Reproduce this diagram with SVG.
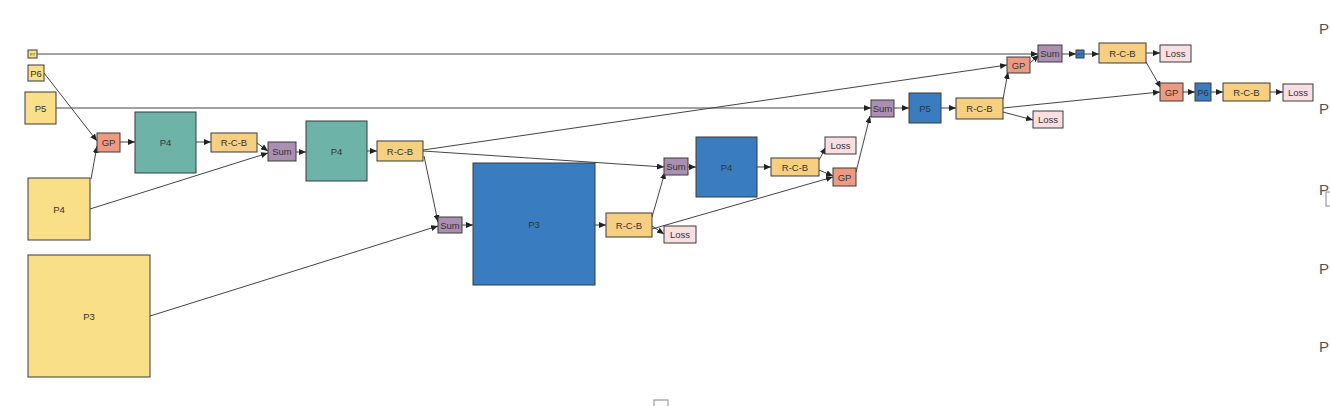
<svg xmlns="http://www.w3.org/2000/svg" width="1330" height="406" viewBox="0 0 1330 406">
<style>
.n{stroke:#3a3a3a;stroke-width:1}
.y{fill:#f8df88}.t{fill:#6db3a7}.b{fill:#3a7cc0}.g{fill:#ee9a83}.s{fill:#ab8fb2}.r{fill:#f7cf80}.l{fill:#f9dfe2}
text{font-family:"Liberation Sans",Arial,sans-serif;font-size:9.5px;fill:#333;text-anchor:middle;dominant-baseline:central}
.e{fill:none;stroke:#444;stroke-width:1;marker-end:url(#a)}
.side{font-size:15px;fill:#555;text-anchor:start}
</style>
<defs>
<marker id="a" markerUnits="userSpaceOnUse" markerWidth="7" markerHeight="6" refX="7" refY="3" orient="auto"><path d="M0,0 L7,3 L0,6 z" fill="#222"/></marker>
</defs>
<rect width="1330" height="406" fill="#fff"/>
<g id="edges">
<path class="e" d="M37,54 L1038,54"/>
<path class="e" d="M44,73 L97,141"/>
<path class="e" d="M91,179 L97,146"/>
<path class="e" d="M120,142 L135,142"/>
<path class="e" d="M196,142 L211,142"/>
<path class="e" d="M257,143 L268,151"/>
<path class="e" d="M90,209 L268,153"/>
<path class="e" d="M296,152 L306,152"/>
<path class="e" d="M367,151 L377,151"/>
<path class="e" d="M423,150 L1007,65"/>
<path class="e" d="M423,151 L664,167"/>
<path class="e" d="M424,156 L438,222"/>
<path class="e" d="M150,316 L438,226"/>
<path class="e" d="M462,225 L473,225"/>
<path class="e" d="M595,225 L606,225"/>
<path class="e" d="M652,217 L665,172"/>
<path class="e" d="M652,226 L664,234"/>
<path class="e" d="M652,229 L833,177"/>
<path class="e" d="M688,167 L696,167"/>
<path class="e" d="M757,167 L771,167"/>
<path class="e" d="M819,160 L826,147"/>
<path class="e" d="M819,170 L833,176"/>
<path class="e" d="M856,172 L870,116"/>
<path class="e" d="M56,108 L871,108"/>
<path class="e" d="M894,108 L909,108"/>
<path class="e" d="M941,108 L956,108"/>
<path class="e" d="M1003,99 L1008,72"/>
<path class="e" d="M1003,112 L1033,120"/>
<path class="e" d="M1003,108 L1160,92"/>
<path class="e" d="M1030,63 L1039,55"/>
<path class="e" d="M1062,54 L1076,54"/>
<path class="e" d="M1084,54 L1099,54"/>
<path class="e" d="M1146,53 L1160,53"/>
<path class="e" d="M1146,62 L1161,88"/>
<path class="e" d="M1183,92 L1195,92"/>
<path class="e" d="M1211,92 L1223,92"/>
<path class="e" d="M1270,92 L1283,92"/>
</g>
<g id="P7in"><rect class="n y" x="28" y="50" width="9" height="8"/><text x="32.5" y="54" style="font-size:4px">P7</text></g>
<g id="P6in"><rect class="n y" x="28" y="65" width="16" height="16"/><text x="36" y="73">P6</text></g>
<g id="P5in"><rect class="n y" x="25" y="92" width="31" height="32"/><text x="40.5" y="108">P5</text></g>
<g id="P4in"><rect class="n y" x="28" y="178" width="62" height="62"/><text x="59" y="209">P4</text></g>
<g id="P3in"><rect class="n y" x="28" y="255" width="122" height="122"/><text x="89" y="316">P3</text></g>
<g id="GP1"><rect class="n g" x="97" y="133" width="23" height="19"/><text x="108.5" y="142.5">GP</text></g>
<g id="P4a"><rect class="n t" x="135" y="112" width="61" height="61"/><text x="165.5" y="142">P4</text></g>
<g id="RCB1"><rect class="n r" x="211" y="133" width="46" height="19"/><text x="234" y="142.5">R-C-B</text></g>
<g id="Sum1"><rect class="n s" x="268" y="142" width="28" height="19"/><text x="282" y="151.5">Sum</text></g>
<g id="P4b"><rect class="n t" x="306" y="121" width="61" height="60"/><text x="336.5" y="151">P4</text></g>
<g id="RCB2"><rect class="n r" x="377" y="141" width="46" height="20"/><text x="400" y="151">R-C-B</text></g>
<g id="Sum2"><rect class="n s" x="438" y="217" width="24" height="16"/><text x="450" y="225">Sum</text></g>
<g id="P3out"><rect class="n b" x="473" y="163" width="122" height="122"/><text x="534" y="224">P3</text></g>
<g id="RCB3"><rect class="n r" x="606" y="213" width="46" height="24"/><text x="629" y="225">R-C-B</text></g>
<g id="Loss3"><rect class="n l" x="664" y="226" width="32" height="17"/><text x="680" y="234.5">Loss</text></g>
<g id="Sum3"><rect class="n s" x="664" y="158" width="24" height="17"/><text x="676" y="166.5">Sum</text></g>
<g id="P4out"><rect class="n b" x="696" y="137" width="61" height="60"/><text x="726.5" y="167">P4</text></g>
<g id="RCB4"><rect class="n r" x="771" y="158" width="48" height="18"/><text x="795" y="167">R-C-B</text></g>
<g id="Loss4"><rect class="n l" x="825" y="137" width="31" height="17"/><text x="840.5" y="145.5">Loss</text></g>
<g id="GP4"><rect class="n g" x="833" y="168" width="23" height="18"/><text x="844.5" y="177">GP</text></g>
<g id="Sum5"><rect class="n s" x="871" y="100" width="23" height="17"/><text x="882.5" y="108.5">Sum</text></g>
<g id="P5out"><rect class="n b" x="909" y="93" width="32" height="30"/><text x="925" y="108">P5</text></g>
<g id="RCB5"><rect class="n r" x="956" y="98" width="47" height="21"/><text x="979.5" y="108.5">R-C-B</text></g>
<g id="Loss5"><rect class="n l" x="1033" y="111" width="30" height="17"/><text x="1048" y="119.5">Loss</text></g>
<g id="GP5"><rect class="n g" x="1007" y="57" width="23" height="16"/><text x="1018.5" y="65">GP</text></g>
<g id="Sum6"><rect class="n s" x="1038" y="45" width="24" height="17"/><text x="1050" y="53.5">Sum</text></g>
<g id="P7out"><rect class="n b" x="1076" y="50" width="8" height="8"/><text x="1080" y="54" style="font-size:4px">P7</text></g>
<g id="RCB6"><rect class="n r" x="1099" y="43" width="47" height="20"/><text x="1122.5" y="53">R-C-B</text></g>
<g id="Loss6"><rect class="n l" x="1160" y="45" width="31" height="17"/><text x="1175.5" y="53.5">Loss</text></g>
<g id="GP6"><rect class="n g" x="1160" y="83" width="23" height="18"/><text x="1171.5" y="92">GP</text></g>
<g id="P6out"><rect class="n b" x="1195" y="83" width="16" height="18"/><text x="1203" y="92">P6</text></g>
<g id="RCB7"><rect class="n r" x="1223" y="83" width="47" height="18"/><text x="1246.5" y="92">R-C-B</text></g>
<g id="Loss7"><rect class="n l" x="1283" y="84" width="30" height="17"/><text x="1298" y="92.5">Loss</text></g>
<g id="edge-artifacts">
<text class="side" x="1319" y="28">P</text>
<text class="side" x="1319" y="108">P</text>
<text class="side" x="1319" y="189">P</text>
<text class="side" x="1319" y="268">P</text>
<text class="side" x="1319" y="346">P</text>
<rect x="1326" y="192" width="8" height="14" fill="none" stroke="#888" stroke-width="1"/>
<rect x="654" y="400" width="14" height="10" fill="none" stroke="#888" stroke-width="1"/>
</g>
</svg>
